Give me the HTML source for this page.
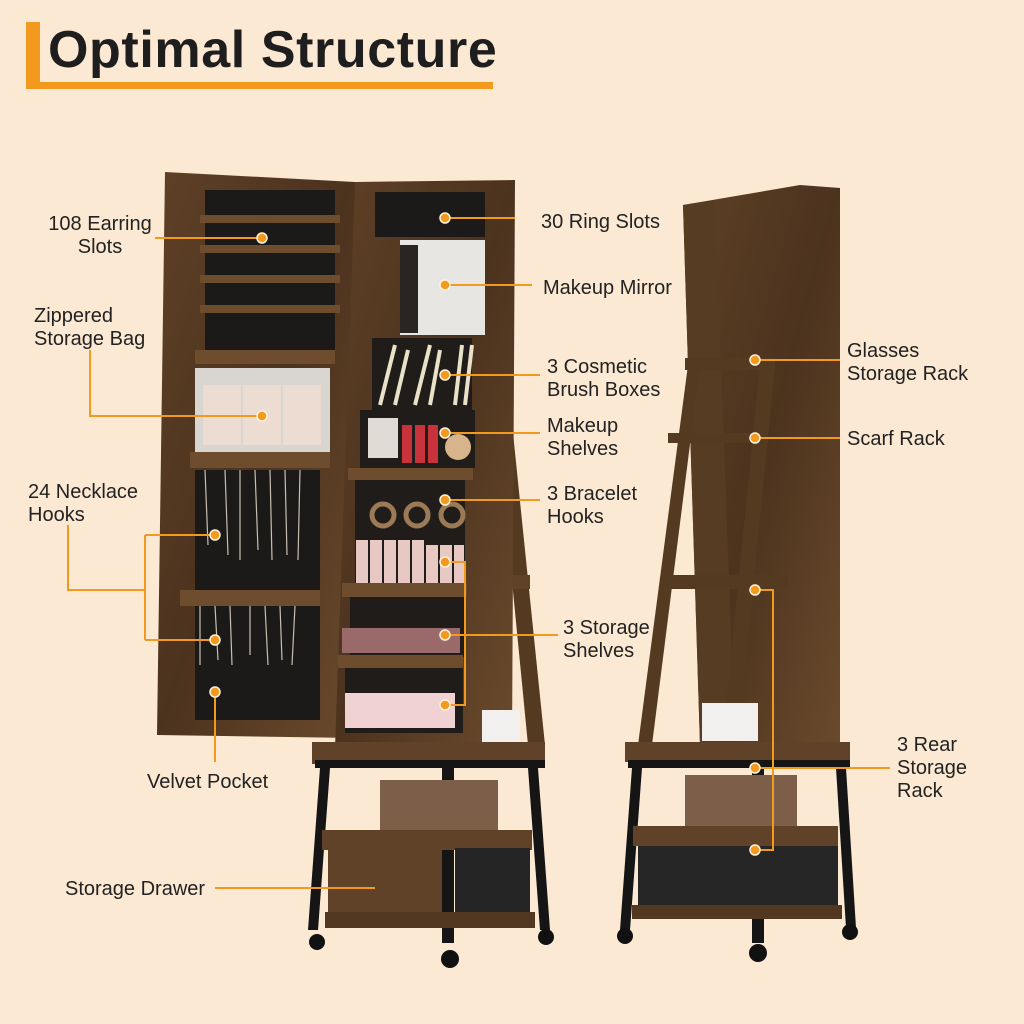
<!DOCTYPE html>
<html><head><meta charset="utf-8"><style>
html,body{margin:0;padding:0;background:#fce9d3;}
svg{display:block}
text{font-family:"Liberation Sans",sans-serif;fill:#222;font-size:20px;}
.t{font-size:52px;font-weight:bold;fill:#1e1e1e;letter-spacing:0.6px}
</style></head><body>
<svg width="1024" height="1024" viewBox="0 0 1024 1024">
<defs>
<linearGradient id="w" x1="0" y1="0" x2="1" y2="1">
<stop offset="0" stop-color="#5e4026"/><stop offset=".5" stop-color="#4c331e"/><stop offset="1" stop-color="#6a4a2c"/>
</linearGradient>
</defs>
<rect width="1024" height="1024" fill="#fce9d3"/>
<rect x="26" y="22" width="14" height="66" fill="#f39a1e"/>
<rect x="26" y="82" width="467" height="7" fill="#f39a1e"/>
<text x="48" y="67" class="t">Optimal Structure</text>

<polygon points="490,355 505,355 545,745 528,745" fill="#553a22"/>
<rect x="490" y="575" width="40" height="14" fill="#604228"/>
<polygon points="165,172 355,182 355,738 157,735" fill="url(#w)"/>
<rect x="205" y="190" width="130" height="165" fill="#1c1a19"/>
<g fill="#6e4d2e"><rect x="200" y="215" width="140" height="8"/><rect x="200" y="245" width="140" height="8"/><rect x="200" y="275" width="140" height="8"/><rect x="200" y="305" width="140" height="8"/></g>
<rect x="195" y="350" width="140" height="14" fill="#6e4d2e"/>
<rect x="195" y="368" width="135" height="92" fill="#d9d6d1"/>
<rect x="203" y="385" width="38" height="60" fill="#ecdcd2"/><rect x="243" y="385" width="38" height="60" fill="#ecdcd2"/><rect x="283" y="385" width="38" height="60" fill="#ecdcd2"/>
<rect x="195" y="470" width="125" height="250" fill="#1c1a19"/>
<rect x="190" y="452" width="140" height="16" fill="#6e4d2e"/>
<rect x="180" y="590" width="140" height="16" fill="#6e4d2e"/>
<g stroke="#c9c0b0" stroke-width="1.2" fill="none">
<path d="M205 470 L208 545 M225 470 L228 555 M240 470 L240 560 M255 470 L258 550 M270 470 L272 560 M285 470 L287 555 M300 470 L298 560"/>
<path d="M200 606 L200 665 M215 606 L218 660 M230 606 L232 665 M250 606 L250 655 M265 606 L268 665 M280 606 L282 660 M295 606 L292 665"/>
</g>
<polygon points="355,182 515,180 512,748 335,748" fill="url(#w)"/>
<rect x="375" y="192" width="110" height="45" fill="#1c1a19"/>
<rect x="400" y="240" width="85" height="95" fill="#e8e6e2"/>
<rect x="400" y="245" width="18" height="88" fill="#2a2522"/>
<rect x="372" y="338" width="100" height="72" fill="#1f1c1a"/>
<g stroke="#e9e1c8" stroke-width="4"><path d="M380 405 L395 345 M395 405 L408 350 M415 405 L430 345 M430 405 L440 350 M455 405 L462 345 M465 405 L472 345"/></g>
<rect x="360" y="410" width="115" height="58" fill="#1f1c1a"/>
<rect x="368" y="418" width="30" height="40" fill="#e1dbd6"/>
<g fill="#c8323b"><rect x="402" y="425" width="10" height="38"/><rect x="415" y="425" width="10" height="38"/><rect x="428" y="425" width="10" height="38"/></g>
<circle cx="458" cy="447" r="13" fill="#d8b48d"/>
<rect x="348" y="468" width="125" height="12" fill="#6e4d2e"/>
<rect x="355" y="480" width="110" height="105" fill="#1f1c1a"/>
<g fill="none" stroke="#9b7a55" stroke-width="5"><circle cx="383" cy="515" r="11"/><circle cx="417" cy="515" r="11"/><circle cx="452" cy="515" r="11"/></g>
<g fill="#e8c8c2"><rect x="356" y="540" width="12" height="45"/><rect x="370" y="540" width="12" height="45"/><rect x="384" y="540" width="12" height="45"/><rect x="398" y="540" width="12" height="45"/><rect x="412" y="540" width="12" height="45"/><rect x="426" y="545" width="12" height="40"/><rect x="440" y="545" width="12" height="40"/><rect x="454" y="545" width="10" height="40"/></g>
<rect x="342" y="583" width="125" height="14" fill="#6e4d2e"/>
<rect x="350" y="597" width="115" height="60" fill="#1f1c1a"/>
<rect x="342" y="628" width="118" height="25" fill="#9a6a6a"/>
<rect x="338" y="655" width="125" height="13" fill="#6e4d2e"/>
<rect x="345" y="668" width="118" height="65" fill="#1f1c1a"/>
<rect x="345" y="693" width="110" height="35" fill="#f0d2d3"/>
<rect x="482" y="710" width="38" height="36" fill="#f1f0ee"/>
<rect x="312" y="742" width="233" height="22" fill="#604228"/>
<rect x="315" y="760" width="230" height="8" fill="#151515"/>
<polygon points="320,768 330,768 318,930 308,930" fill="#151515"/>
<polygon points="528,768 538,768 550,930 540,930" fill="#151515"/>
<rect x="442" y="768" width="12" height="175" fill="#151515"/>
<rect x="380" y="780" width="118" height="58" fill="#7d5e48"/>
<rect x="322" y="830" width="210" height="20" fill="#604228"/>
<rect x="328" y="848" width="114" height="70" fill="#604228"/>
<rect x="455" y="848" width="75" height="70" fill="#252525"/>
<rect x="325" y="912" width="210" height="16" fill="#523820"/>
<g fill="#111"><circle cx="317" cy="942" r="8"/><circle cx="450" cy="959" r="9"/><circle cx="546" cy="937" r="8"/></g>

<polygon points="683,205 800,185 840,188 840,745 700,745" fill="url(#w)"/>
<polygon points="683,205 715,200 735,745 700,745" fill="#573c24"/>
<g fill="#553a22">
<polygon points="688,365 700,365 652,745 638,745"/>
<polygon points="760,365 775,365 738,745 722,745"/>
<rect x="685" y="358" width="90" height="12"/>
<rect x="668" y="433" width="100" height="10"/>
<rect x="668" y="575" width="120" height="14"/>
</g>
<rect x="702" y="703" width="56" height="38" fill="#f1f0ee"/>
<rect x="625" y="742" width="225" height="20" fill="#604228"/>
<rect x="628" y="760" width="222" height="8" fill="#151515"/>
<polygon points="632,768 642,768 630,930 620,930" fill="#151515"/>
<polygon points="836,768 846,768 856,928 846,928" fill="#151515"/>
<rect x="752" y="768" width="12" height="175" fill="#151515"/>
<rect x="685" y="775" width="112" height="60" fill="#7d5e48"/>
<rect x="633" y="826" width="205" height="20" fill="#604228"/>
<rect x="638" y="846" width="200" height="70" fill="#262626"/>
<rect x="632" y="905" width="210" height="14" fill="#523820"/>
<g fill="#111"><circle cx="625" cy="936" r="8"/><circle cx="758" cy="953" r="9"/><circle cx="850" cy="932" r="8"/></g>

<g stroke="#f39a1e" stroke-width="2" fill="none">
<path d="M155 238 H262"/>
<path d="M90 350 V416 H262"/>
<path d="M68 525 V590 H145 M145 535 V640 M145 535 H215 M145 640 H215"/>
<path d="M215 692 V762"/>
<path d="M215 888 H375"/>
<path d="M445 218 H515"/>
<path d="M445 285 H532"/>
<path d="M445 375 H540"/>
<path d="M445 433 H540"/>
<path d="M445 500 H540"/>
<path d="M445 562 H465 V705 H445 M445 635 H558"/>
<path d="M755 360 H840"/>
<path d="M755 438 H840"/>
<path d="M755 590 H773 V850 H755 M755 768 H890"/>
</g>
<g fill="#f39a1e" stroke="#fff3dd" stroke-width="1.5">
<circle cx="262" cy="238" r="5"/><circle cx="262" cy="416" r="5"/><circle cx="215" cy="535" r="5"/><circle cx="215" cy="640" r="5"/><circle cx="215" cy="692" r="5"/>
<circle cx="445" cy="218" r="5"/><circle cx="445" cy="285" r="5"/><circle cx="445" cy="375" r="5"/><circle cx="445" cy="433" r="5"/><circle cx="445" cy="500" r="5"/><circle cx="445" cy="562" r="5"/><circle cx="445" cy="635" r="5"/><circle cx="445" cy="705" r="5"/>
<circle cx="755" cy="360" r="5"/><circle cx="755" cy="438" r="5"/><circle cx="755" cy="590" r="5"/><circle cx="755" cy="768" r="5"/><circle cx="755" cy="850" r="5"/>
</g>

<text x="100" y="230" text-anchor="middle">108 Earring</text>
<text x="100" y="253" text-anchor="middle">Slots</text>
<text x="34" y="322">Zippered</text>
<text x="34" y="345">Storage Bag</text>
<text x="28" y="498">24 Necklace</text>
<text x="28" y="521">Hooks</text>
<text x="147" y="788">Velvet Pocket</text>
<text x="65" y="895">Storage Drawer</text>
<text x="541" y="228">30 Ring Slots</text>
<text x="543" y="294">Makeup Mirror</text>
<text x="547" y="373">3 Cosmetic</text>
<text x="547" y="396">Brush Boxes</text>
<text x="547" y="432">Makeup</text>
<text x="547" y="455">Shelves</text>
<text x="547" y="500">3 Bracelet</text>
<text x="547" y="523">Hooks</text>
<text x="563" y="634">3 Storage</text>
<text x="563" y="657">Shelves</text>
<text x="847" y="357">Glasses</text>
<text x="847" y="380">Storage Rack</text>
<text x="847" y="445">Scarf Rack</text>
<text x="897" y="751">3 Rear</text>
<text x="897" y="774">Storage</text>
<text x="897" y="797">Rack</text>
</svg>
</body></html>
